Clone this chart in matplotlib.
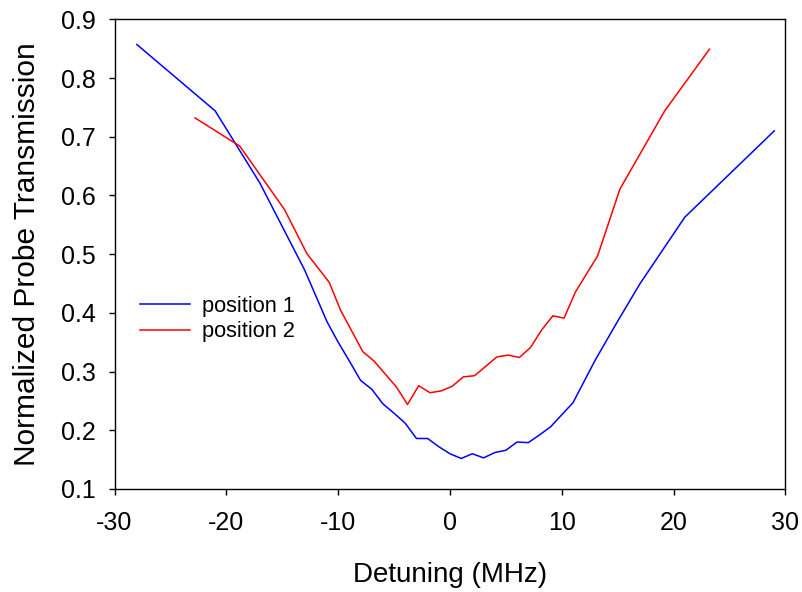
import matplotlib
matplotlib.use('Agg')
import matplotlib.pyplot as plt

# detuning (MHz) and normalized transmission
x_pos1 = [-28, -21, -17, -15, -13, -11, -10, -9, -8, -7, -6, -5, -4, -3, -2, -1,
          0, 1, 2, 3, 4, 5, 6, 7, 8, 9, 11, 13, 15, 17, 21, 29]
y_pos1 = [0.857, 0.744, 0.621, 0.547, 0.473, 0.385, 0.350, 0.318, 0.285, 0.270,
          0.245, 0.229, 0.212, 0.186, 0.186, 0.172, 0.160, 0.152, 0.160, 0.153,
          0.162, 0.166, 0.180, 0.179, 0.192, 0.206, 0.247, 0.320, 0.386, 0.450,
          0.563, 0.710]

x_pos2 = [-22.8, -18.8, -14.8, -12.8, -10.8, -9.8, -7.8, -6.8, -5.8, -4.8, -3.8,
          -2.8, -1.8, -0.8, 0.2, 1.2, 2.2, 3.2, 4.2, 5.2, 6.2, 7.2, 8.2, 9.2,
          10.2, 11.2, 13.2, 15.2, 19.2, 23.2]
y_pos2 = [0.732, 0.684, 0.576, 0.501, 0.452, 0.405, 0.334, 0.318, 0.296, 0.274,
          0.244, 0.276, 0.264, 0.267, 0.275, 0.291, 0.293, 0.309, 0.325, 0.328,
          0.324, 0.341, 0.371, 0.395, 0.391, 0.435, 0.497, 0.611, 0.744, 0.849]

plt.rcParams['font.family'] = ['Liberation Sans', 'DejaVu Sans']
plt.rcParams['axes.unicode_minus'] = False

fig = plt.figure(figsize=(8.02, 5.92), dpi=100)
ax = fig.add_axes([0.1428, 0.174, 0.8366, 0.7934])

ax.plot(x_pos1, y_pos1, color='blue', lw=1.1, label='position 1')
ax.plot(x_pos2, y_pos2, color='red', lw=1.1, label='position 2')

ax.set_xlim(-30, 30)
ax.set_ylim(0.1, 0.9)
ax.set_xticks(range(-30, 31, 10))
ax.set_yticks([0.1, 0.2, 0.3, 0.4, 0.5, 0.6, 0.7, 0.8, 0.9])
ax.set_yticklabels(['0.1', '0.2', '0.3', '0.4', '0.5', '0.6', '0.7', '0.8', '0.9'])

ax.tick_params(direction='out', length=4.5, width=1.0, labelsize=18,
               top=False, right=False)
ax.tick_params(axis='y', pad=9)
ax.tick_params(axis='x', pad=11)
for s in ax.spines.values():
    s.set_linewidth(1.0)

ax.set_xlabel('Detuning (MHz)', fontsize=20, labelpad=20)
ax.set_ylabel('Normalized Probe Transmission', fontsize=21.5, labelpad=14)

ax.legend(loc='center left', bbox_to_anchor=(0.038, 0.362), frameon=False,
          fontsize=15.7, handlelength=2.3, handletextpad=0.55, labelspacing=0.2,
          borderpad=0, borderaxespad=0)

plt.savefig('out.png', dpi=100)
